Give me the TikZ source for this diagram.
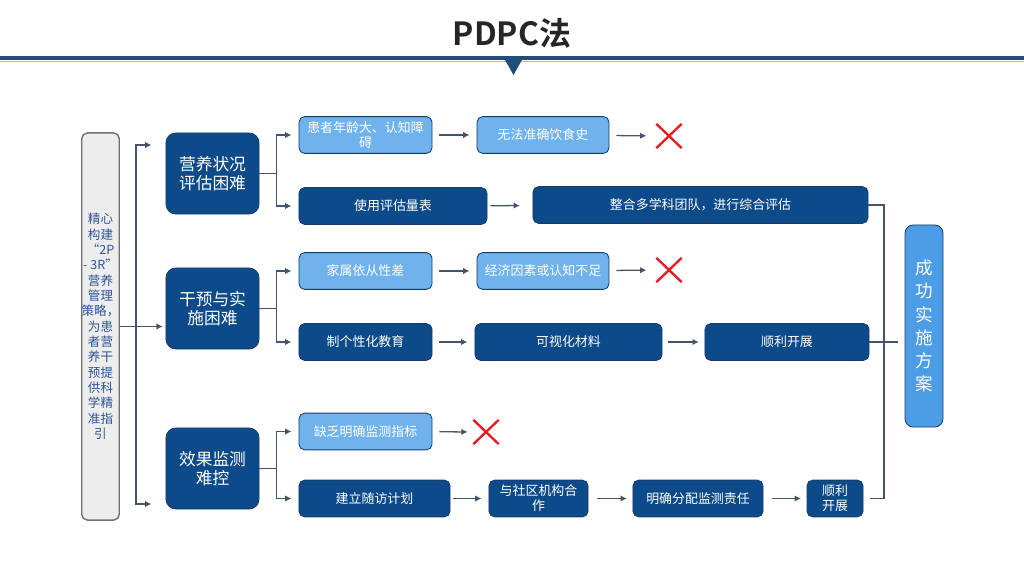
\documentclass[tikz,border=0pt]{standalone}
\usepackage{fontspec}
\setmainfont{Noto Sans CJK SC}[BoldFont={Noto Sans CJK SC Bold}]
\usetikzlibrary{arrows.meta,shapes.misc}

\begin{document}
\begin{tikzpicture}[x=0.025cm,y=-0.025cm, line width=0.8pt,
    conn/.style={draw=linecolor, line width=0.9pt},
    arr/.style={conn, -{Latex[length=4.5pt,width=4.5pt]}, shorten >=5pt},
    catbox/.style={
                rectangle,
                rounded corners=7pt,
                fill=navy,
                draw=navyedge,
                line width=0.6pt,
                text=white,
                align=center,
                inner sep=0pt,
                minimum width=2.325cm,
                minimum height=2.025cm,
                font=\fontsize{11.9}{13.2}\selectfont
              },
    subbox/.style={rectangle, rounded corners=4pt, minimum height=0.92cm,
                inner sep=1pt, align=center, text=white, line width=0.6pt,
                font=\fontsize{9.2}{10.7}\selectfont},
    darkbox/.style={subbox, fill=navy, draw=navyedge},
    lightbox/.style={subbox, fill=lightblue, draw=navyedge},
    nogo/.style={cross out, draw=crossred, line width=1.7pt,
                minimum width=0.575cm, minimum height=0.55cm, inner sep=0pt}]
    % Define colors
    \definecolor{navy}{RGB}{13, 74, 138}
    \definecolor{navyedge}{RGB}{22, 60, 110}
    \definecolor{lightblue}{RGB}{111, 178, 236}
    \definecolor{sideblue}{RGB}{76, 156, 230}
    \definecolor{linecolor}{RGB}{68, 84, 106}
    \definecolor{crossred}{RGB}{228, 30, 36}
    \definecolor{greyfill}{RGB}{237, 237, 237}
    \definecolor{greyedge}{RGB}{112, 112, 112}
    \definecolor{sidetext}{RGB}{47, 85, 151}
    \definecolor{titlegray}{RGB}{38, 38, 38}
    \definecolor{barblue}{RGB}{31, 78, 121}
    \definecolor{barlight}{RGB}{157, 195, 230}

    \useasboundingbox (0,0) rectangle (1024,576);

    % title and bar
    \node[font=\fontsize{22.7}{26}\selectfont\bfseries, text=titlegray] (title) at (512,33) {PDPC法};
    \draw[barblue, line width=2.2pt] (0,58) -- (1024,58);
    \draw[barlight, line width=0.7pt] (0,61.5) -- (1024,61.5);
    \fill[barblue] (505,60) -- (522,60) -- (513.5,75) -- cycle;

    % strategy and goal
    \node[rectangle, rounded corners=4pt, fill=greyfill, draw=greyedge, line width=1pt,
          minimum width=0.925cm, minimum height=9.675cm, inner sep=0pt, align=center,
          text=sidetext, font=\fontsize{8.9}{10.9}\selectfont] (lbox) at (100.5,326.5)
          {精心\\构建\\“2P\\- 3R”\\营养\\管理\\策略，\\为患\\者营\\养干\\预提\\供科\\学精\\准指\\引};
    \node[rectangle, rounded corners=6pt, fill=sideblue, draw=navyedge, line width=0.6pt,
          minimum width=0.95cm, minimum height=5.05cm, inner sep=0pt, align=center,
          text=white, font=\fontsize{12.5}{16.5}\selectfont] (rbox) at (924,326)
          {成\\功\\实\\施\\方\\案};

    % difficulties
    \node[catbox] (cat1) at (212.5,173.5) {营养状况\\评估困难};
    \node[catbox] (cat2) at (212.5,308.5) {干预与实\\施困难};
    \node[catbox] (cat3) at (212.5,468.5) {效果监测\\难控};

    % row 1
    \node[lightbox, minimum width=3.325cm] (a1) at (365.5,135) {患者年龄大、认知障\\碍};
    \node[lightbox, minimum width=3.3cm] (a2) at (543,135) {无法准确饮食史};
    \node[nogo] (x1) at (669,136) {};
    \node[darkbox, minimum width=4.7cm] (b1) at (393,206) {使用评估量表};
    \node[darkbox, minimum width=8.375cm] (b2) at (700.5,205) {整合多学科团队，进行综合评估};

    % row 2
    \node[lightbox, minimum width=3.325cm] (a3) at (365.5,271) {家属依从性差};
    \node[lightbox, minimum width=3.3cm] (a4) at (543,271) {经济因素或认知不足};
    \node[nogo] (x2) at (669,270) {};
    \node[darkbox, minimum width=3.325cm] (c1) at (365.5,342) {制个性化教育};
    \node[darkbox, minimum width=4.675cm] (c2) at (568.5,342) {可视化材料};
    \node[darkbox, minimum width=4.1cm] (c3) at (787,342) {顺利开展};

    % row 3
    \node[lightbox, minimum width=3.325cm] (a5) at (365.5,431.5) {缺乏明确监测指标};
    \node[nogo] (x3) at (486,432) {};
    \node[darkbox, minimum width=3.775cm] (d1) at (374.5,498.5) {建立随访计划};
    \node[darkbox, minimum width=2.475cm] (d2) at (538.5,498.5) {与社区机构合\\作};
    \node[darkbox, minimum width=3.25cm] (d3) at (698,498.5) {明确分配监测责任};
    \node[darkbox, minimum width=1.4cm] (d4) at (835,498.5) {顺利\\开展};

    % left fan
    \coordinate (ltop) at (136,145);
    \coordinate (lbot) at (136,504);
    \draw[arr, shorten >=2pt] (lbox.east) -- (lbox.east -| cat2.west);
    \draw[conn, {Latex[length=4.5pt,width=4.5pt]}-{Latex[length=4.5pt,width=4.5pt]},
          shorten <=10pt, shorten >=10pt] (ltop -| cat1.west) -- (ltop) -- (lbot) -- (lbot -| cat3.west);

    % brackets
    \draw[arr] (cat1.east) -- ++(17,0) |- (a1.west);
    \draw[arr] (cat1.east) -- ++(17,0) |- (b1.west);
    \draw[arr] (cat2.east) -- ++(17,0) |- (a3.west);
    \draw[arr] (cat2.east) -- ++(17,0) |- (c1.west);
    \draw[arr] (cat3.east) -- ++(17,0) |- (a5.west);
    \draw[arr] (cat3.east) -- ++(17,0) |- (d1.west);

    % steps
    \draw[arr, shorten <=5pt] (a1) -- (a2);
    \draw[arr, shorten <=5pt, shorten >=7pt] (a2) -- (x1);
    \draw[arr, shorten <=2pt, shorten >=9pt] (b1) -- (b2);
    \draw[arr, shorten <=5pt] (a3) -- (a4);
    \draw[arr, shorten <=5pt, shorten >=7pt] (a4) -- (x2);
    \draw[arr, shorten <=5pt] (c1) -- (c2);
    \draw[arr, shorten <=4pt, shorten >=4pt] (c2) -- (c3);
    \draw[arr, shorten <=5pt, shorten >=4pt] (a5) -- (x3);
    \draw[arr, shorten <=2pt] (d1) -- (d2);
    \draw[arr, shorten <=6pt, shorten >=4pt] (d2) -- (d3);
    \draw[arr, shorten <=6pt, shorten >=4pt] (d3) -- (d4);

    % join to goal
    \draw[conn, shorten >=5pt] (b2.east) -| (884,350) |- (d4.east);
    \draw[conn, shorten >=4.5pt] (c3.east) -- (c3.east -| rbox.west);
\end{tikzpicture}
\end{document}
